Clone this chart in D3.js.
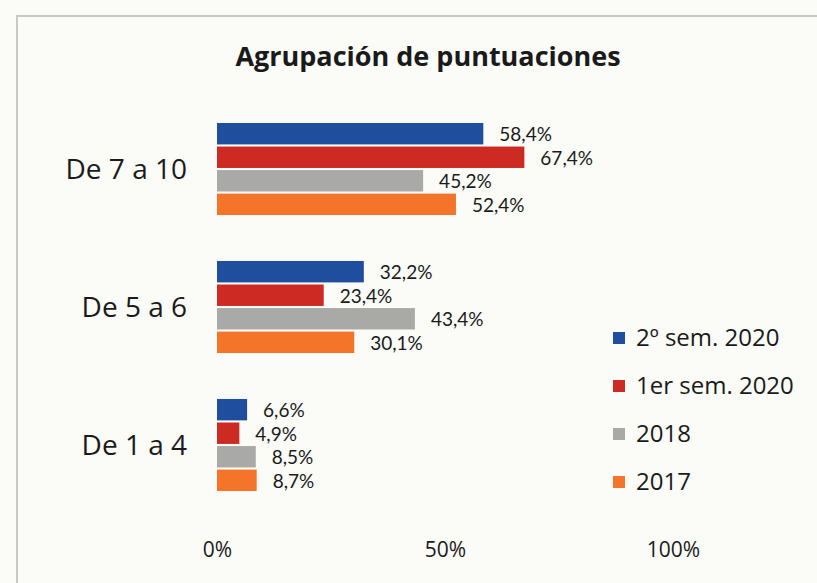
<!DOCTYPE html>
<html>
<head>
<meta charset="utf-8">
<script src="https://cdn.jsdelivr.net/npm/d3@7"></script>
<style>
  body { margin: 0; background: #fbfbf8; }
  text { font-family: "Open Sans", sans-serif; fill: #1a1a1a; }
</style>
</head>
<body>
<script>
var w = 817;
var h = 583;

var categories = ["De 7 a 10", "De 5 a 6", "De 1 a 4"];
var seriesNames = ["2º sem. 2020", "1er sem. 2020", "2018", "2017"];
var colors = ["#1f4e9e", "#cc2a22", "#a9aaa8", "#f4742a"];
var sem2_2020 = [58.4, 32.2, 6.6];
var sem1_2020 = [67.4, 23.4, 4.9];
var y2018 = [45.2, 43.4, 8.5];
var y2017 = [52.4, 30.1, 8.7];
var tickValues = [0, 50, 100];

var values = [sem2_2020, sem1_2020, y2018, y2017];

var svg = d3.select("body")
  .append("svg")
  .attr("width", w)
  .attr("height", h);

// frame of the chart area
svg.append("path")
  .attr("d", "M17,583 V16 H817")
  .attr("fill", "none")
  .attr("stroke", "#c9c9c6")
  .attr("stroke-width", 2);

svg.append("text")
  .attr("x", 428)
  .attr("y", 66)
  .attr("text-anchor", "middle")
  .attr("font-size", "27px")
  .attr("font-weight", "bold")
  .text("Agrupación de puntuaciones");

var x = d3.scaleLinear().domain([0, 100]).range([217, 673]);

var y0 = d3.scaleBand()
  .domain(categories)
  .range([100, 514])
  .paddingInner(0.333)
  .paddingOuter(0.1667);

var y1 = d3.scaleBand()
  .domain(seriesNames)
  .range([0, y0.bandwidth()])
  .paddingInner(0.09);

var groups = svg.selectAll("g.cat")
  .data(categories)
  .enter()
  .append("g")
  .attr("class", "cat")
  .attr("transform", function(d) { return "translate(0," + y0(d) + ")"; });

groups.selectAll("rect")
  .data(function(d, i) {
    return seriesNames.map(function(s, j) { return { s: s, v: values[j][i], j: j }; });
  })
  .enter()
  .append("rect")
  .attr("x", x(0))
  .attr("y", function(d) { return y1(d.s); })
  .attr("width", function(d) { return x(d.v) - x(0); })
  .attr("height", y1.bandwidth())
  .attr("fill", function(d) { return colors[d.j]; });

// value labels, Lato keeps them tight enough not to collide
groups.selectAll("text.val")
  .data(function(d, i) {
    return seriesNames.map(function(s, j) { return { s: s, v: values[j][i], j: j }; });
  })
  .enter()
  .append("text")
  .attr("class", "val")
  .attr("x", function(d) { return x(d.v) + 16; })
  .attr("y", function(d) { return y1(d.s) + y1.bandwidth() / 2 + 1; })
  .attr("dy", "0.35em")
  .attr("font-size", "19px")
  .attr("font-family", "Lato, sans-serif")
  .style("font-family", "Lato, sans-serif")
  .text(function(d) { return d3.format(".1f")(d.v).replace(".", ",") + "%"; });

// category labels
svg.selectAll("text.cat")
  .data(categories)
  .enter()
  .append("text")
  .attr("class", "cat")
  .attr("x", 187)
  .attr("y", function(d) { return y0(d) + y0.bandwidth() / 2; })
  .attr("dy", "0.35em")
  .attr("text-anchor", "end")
  .attr("font-size", "28px")
  .text(function(d) { return d; });

// x axis (labels only)
var xAxis = d3.axisBottom(x)
  .tickValues(tickValues)
  .tickSize(0)
  .tickPadding(0)
  .tickFormat(function(d) { return d + "%"; });

var gx = svg.append("g")
  .attr("transform", "translate(0,542)")
  .call(xAxis);
gx.select(".domain").remove();
gx.selectAll("text")
  .attr("font-size", "21px")
  .attr("font-family", "Open Sans, sans-serif")
  .attr("fill", "#333");

// legend
var legend = svg.selectAll("g.leg")
  .data(seriesNames)
  .enter()
  .append("g")
  .attr("class", "leg")
  .attr("transform", function(d, i) { return "translate(613," + (338 + i * 48) + ")"; });

legend.append("rect")
  .attr("x", 0)
  .attr("y", -6)
  .attr("width", 12)
  .attr("height", 12)
  .attr("fill", function(d, i) { return colors[i]; });

legend.append("text")
  .attr("x", 23)
  .attr("y", 0)
  .attr("dy", "0.35em")
  .attr("font-size", "24px")
  .text(function(d) { return d; });
</script>
</body>
</html>
